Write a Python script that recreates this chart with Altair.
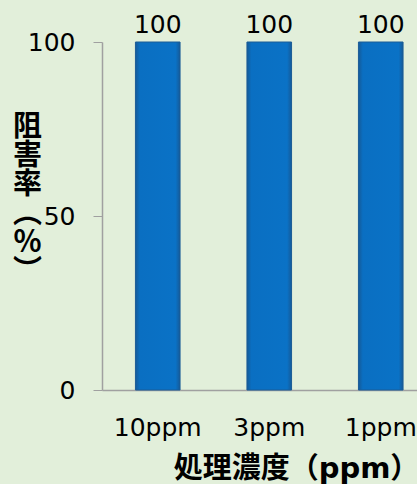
import altair as alt
import pandas as pd

categories = ["10ppm", "3ppm", "1ppm"]
values = [100, 100, 100]
y_title_chars = ["阻", "害", "率", "︵", "％", "︶"]
x_title = "処理濃度（ppm）"

df = pd.DataFrame({"cat": categories, "val": values})

xscale = alt.Scale(domain=categories, range=[0, 334.5], paddingInner=0.6, paddingOuter=0.3)
yscale = alt.Scale(domain=[0, 100], nice=False)

bar_fill = alt.Gradient(
    gradient="linear",
    stops=[
        alt.GradientStop(color="#155a98", offset=0),
        alt.GradientStop(color="#0a6fc2", offset=0.1),
        alt.GradientStop(color="#0a72c6", offset=0.9),
        alt.GradientStop(color="#155a98", offset=1),
    ],
    x1=0, x2=1, y1=0, y2=0,
)

base = alt.Chart(df)

bars = base.mark_bar(color=bar_fill, stroke="#1b5c96", strokeWidth=1).encode(
    x=alt.X(
        "cat:N",
        scale=xscale,
        sort=categories,
        axis=alt.Axis(
            title=x_title,
            labelAngle=0,
            labelFont="DejaVu Sans",
            labelFontSize=25,
            labelColor="#000000",
            labelPadding=25,
            ticks=False,
            domainColor="#a0a0a0",
            domainWidth=1.5,
            titleFont="DejaVu Sans, Noto Sans CJK JP",
            titleFontSize=29,
            titleFontWeight="bold",
            titleColor="#000000",
            titleX=194,
            titleY=87,
            titleAlign="center",
            titleBaseline="alphabetic",
        ),
    ),
    y=alt.Y(
        "val:Q",
        scale=yscale,
        axis=alt.Axis(
            title=y_title_chars,
            values=[0, 50, 100],
            grid=False,
            tickSize=9,
            tickColor="#a0a0a0",
            domainColor="#a0a0a0",
            domainWidth=1.5,
            labelFont="DejaVu Sans",
            labelFontSize=25,
            labelColor="#000000",
            labelPadding=18,
            titleAngle=0,
            titleFont="Noto Sans CJK JP",
            titleFontSize=29,
            titleFontWeight="bold",
            titleColor="#000000",
            titleLineHeight=29,
            titleX=-75,
            titleY=70,
            titleAlign="center",
            titleBaseline="top",
        ),
    ),
)

labels = base.mark_text(
    font="DejaVu Sans", fontSize=25, color="#000000", baseline="alphabetic", dy=-9
).encode(
    x=alt.X("cat:N", scale=xscale, sort=categories),
    y=alt.Y("val:Q", scale=yscale),
    text=alt.Text("val:Q"),
)

chart = (
    alt.layer(bars, labels)
    .properties(
        width=315,
        height=348,
        background="#e2efda",
        autosize=alt.AutoSizeParams(type="none"),
        padding={"left": 102, "top": 42, "right": 0, "bottom": 94},
    )
    .configure_view(stroke=None)
)

chart.save("out.html", embed_options={"renderer": "svg", "actions": False})
